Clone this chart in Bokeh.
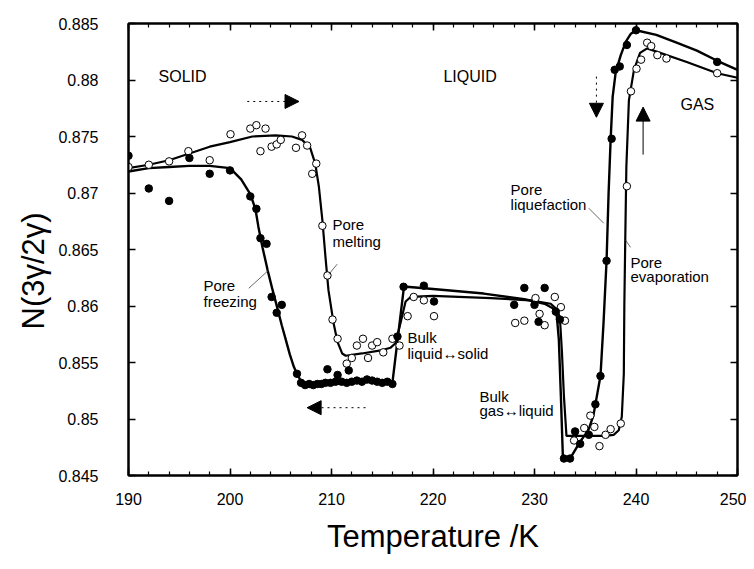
from bokeh.plotting import figure
from bokeh.models import (Range1d, LinearAxis, FixedTicker, CustomJSTickFormatter,
                          Arrow, NormalHead, Label, Title)
from bokeh.embed import file_html
from bokeh.resources import INLINE

# ---------------- data ----------------
# cooling run (filled circles): pore freezing, bulk transitions, pore liquefaction
cool_T = [190.0, 192.0, 194.0, 196.0, 198.0, 200.0, 202.0, 202.6, 203.0, 203.6,
          204.1, 204.6, 205.1, 206.6, 207.0, 207.4, 207.8, 208.2, 208.6, 209.0,
          209.4, 209.6, 209.9, 210.4, 210.6, 211.0, 211.5, 211.7, 212.0, 212.5,
          213.0, 213.5, 214.0, 214.5, 215.0, 215.5, 216.0, 216.5, 217.1, 219.1,
          220.1, 228.0, 229.0, 230.0, 230.4, 231.0, 232.1, 232.5, 232.9, 233.5,
          234.0, 234.5, 235.35, 236.0, 236.5, 237.1, 237.6, 237.9, 238.4, 239.1,
          240.0, 248.0]
cool_N = [0.8733, 0.8704, 0.8693, 0.8731, 0.8717, 0.8720, 0.8697, 0.8686, 0.8660, 0.8655,
          0.8608, 0.8594, 0.8601, 0.8540, 0.8532, 0.8530, 0.8531, 0.8530, 0.8531, 0.8531,
          0.8532, 0.8544, 0.8532, 0.8533, 0.8539, 0.8533, 0.8532, 0.8543, 0.8533, 0.8534,
          0.8533, 0.8535, 0.8534, 0.8533, 0.8532, 0.8533, 0.8531, 0.8573, 0.8617, 0.8618,
          0.8604, 0.8601, 0.8616, 0.8601, 0.8586, 0.8616, 0.8595, 0.8588, 0.8465, 0.8465,
          0.8489, 0.8478, 0.8486, 0.8513, 0.8538, 0.8640, 0.8748, 0.8809, 0.8812, 0.8831,
          0.8844, 0.8816]

# heating run (open circles): pore melting, bulk transitions, pore evaporation
heat_T = [190.0, 192.0, 194.0, 195.9, 198.0, 200.05, 202.0, 202.6, 203.0, 203.5,
          204.1, 204.6, 205.0, 206.5, 207.1, 207.6, 208.1, 208.5, 209.1, 209.6,
          210.1, 210.6, 211.5, 212.0, 212.5, 213.1, 213.6, 214.0, 214.5, 215.1,
          216.0, 216.7, 217.5, 218.1, 219.1, 220.1, 228.1, 229.0, 230.1, 230.5,
          231.0, 232.0, 232.6, 233.0, 233.9, 234.9, 235.5, 235.9, 236.4, 237.0,
          237.5, 238.5, 239.1, 239.5, 240.05, 240.5, 241.1, 241.5, 242.1, 243.0,
          248.0]
heat_N = [0.8723, 0.8725, 0.8728, 0.8737, 0.8729, 0.8752, 0.8757, 0.8760, 0.8737, 0.8757,
          0.8741, 0.8743, 0.8747, 0.8740, 0.8751, 0.8742, 0.8717, 0.8726, 0.8671, 0.8627,
          0.8588, 0.8571, 0.8549, 0.8554, 0.8565, 0.8571, 0.8554, 0.8565, 0.8568, 0.8559,
          0.8571, 0.8565, 0.8591, 0.8608, 0.8605, 0.8591, 0.8585, 0.8587, 0.8607, 0.8593,
          0.8583, 0.8608, 0.8599, 0.8587, 0.8481, 0.8492, 0.8503, 0.8493, 0.8476, 0.8486,
          0.8491, 0.8496, 0.8706, 0.8790, 0.8810, 0.8818, 0.8833, 0.8830, 0.8822, 0.8819,
          0.8806]

# fitted curve through the cooling run
cool_fit_T = [190.0, 192.0, 194.0, 196.0, 198.0, 200.0, 201.1, 202.0, 202.5, 202.8,
              203.2, 203.7, 204.2, 204.7, 205.1, 205.5, 205.9, 206.3, 206.6, 206.9,
              207.3, 207.8, 210.0, 212.0, 214.0, 216.0, 217.1, 217.4, 220.0, 225.0,
              229.0, 231.0, 231.8, 232.2, 232.4, 232.6, 232.8, 233.5, 234.5, 235.3,
              235.8, 236.1, 236.5, 236.8, 237.1, 237.3, 237.5, 237.7, 238.0, 238.5,
              239.0, 239.5, 240.0, 242.0, 244.0, 246.0, 248.0, 250.0]
cool_fit_N = [0.8719, 0.8722, 0.8723, 0.8724, 0.8724, 0.8722, 0.8712, 0.8699, 0.8686, 0.8670,
              0.8652, 0.8632, 0.8614, 0.8597, 0.8583, 0.8570, 0.8557, 0.8546, 0.8540, 0.8535,
              0.8532, 0.8531, 0.8531, 0.8532, 0.8533, 0.8532, 0.8614, 0.8617, 0.8615, 0.8611,
              0.8606, 0.8602, 0.8598, 0.8591, 0.8570, 0.8520, 0.8465, 0.8465, 0.8480, 0.8490,
              0.8503, 0.8518, 0.8538, 0.8585, 0.8640, 0.8700, 0.8747, 0.8785, 0.8807, 0.8822,
              0.8834, 0.8841, 0.8844, 0.8840, 0.8833, 0.8826, 0.8817, 0.8809]

# fitted curve through the heating run
heat_fit_T = [190.0, 192.0, 194.0, 196.0, 198.0, 200.0, 202.2, 204.5, 206.1, 207.1,
              207.9, 208.4, 208.75, 209.1, 209.4, 209.7, 210.2, 210.6, 211.05, 211.4,
              213.0, 215.0, 215.8, 216.3, 216.8, 217.3, 217.8, 220.0, 225.7, 229.6,
              231.6, 232.2, 232.5, 232.7, 232.9, 233.15, 235.0, 237.0, 237.8, 238.3,
              238.6, 238.8, 238.85, 238.95, 239.05, 239.3, 239.8, 240.4, 241.1, 245.0,
              248.0, 250.0]
heat_fit_N = [0.8722, 0.8725, 0.8729, 0.8735, 0.8741, 0.8745, 0.8750, 0.8751, 0.8750, 0.8747,
              0.8740, 0.8726, 0.8706, 0.8676, 0.8644, 0.8614, 0.8585, 0.8568, 0.8558, 0.8556,
              0.8558, 0.8561, 0.8563, 0.8567, 0.8585, 0.8604, 0.8608, 0.8609, 0.8607, 0.8605,
              0.8602, 0.8597, 0.8590, 0.8560, 0.8520, 0.8485, 0.8485, 0.8485, 0.8486, 0.8490,
              0.8502, 0.8540, 0.8600, 0.8664, 0.8723, 0.8782, 0.8809, 0.8824, 0.8828, 0.8816,
              0.8806, 0.8802]

x_ticks = [190, 200, 210, 220, 230, 240, 250]
x_minor_ticks = [190, 192, 194, 196, 198, 200, 202, 204, 206, 208, 210, 212, 214, 216, 218,
                 220, 222, 224, 226, 228, 230, 232, 234, 236, 238, 240, 242, 244, 246, 248, 250]
y_ticks = [0.845, 0.85, 0.855, 0.86, 0.865, 0.87, 0.875, 0.88, 0.885]
y_tick_labels = ["0.845", "0.85", "0.855", "0.86", "0.865", "0.87", "0.875", "0.88", "0.885"]
x_title = "Temperature /K"
y_title = "N(3γ/2γ)"

FONT = "Liberation Sans"

p = figure(width=746, height=561,
           x_range=Range1d(190, 250), y_range=Range1d(0.845, 0.885),
           output_backend="svg", toolbar_location=None,
           min_border_left=128, min_border_right=9, min_border_top=23, min_border_bottom=86,
           x_axis_label=x_title)
p.xgrid.visible = False
p.ygrid.visible = False
p.outline_line_color = "black"
p.outline_line_width = 2
p.background_fill_color = "white"
p.border_fill_color = "white"

xt = FixedTicker(ticks=x_ticks, minor_ticks=x_minor_ticks)
yt = FixedTicker(ticks=y_ticks, minor_ticks=[])


def style(ax):
    ax.axis_line_color = "black"
    ax.axis_line_width = 2
    ax.major_tick_in = 7
    ax.major_tick_out = 0
    ax.minor_tick_in = 4
    ax.minor_tick_out = 0
    ax.major_tick_line_width = 1.5
    ax.minor_tick_line_width = 1.2
    ax.major_tick_line_color = "black"
    ax.minor_tick_line_color = "black"
    ax.major_label_text_font = FONT
    ax.major_label_text_font_size = "16px"
    ax.major_label_text_color = "black"
    ax.axis_label_text_font = FONT
    ax.axis_label_text_font_size = "31px"
    ax.axis_label_text_font_style = "normal"
    ax.axis_label_text_color = "black"


xa = p.xaxis[0]
xa.ticker = xt
style(xa)
xa.major_label_standoff = 17
xa.axis_label_standoff = 11

ya = p.yaxis[0]
ya.ticker = yt
style(ya)
ya.major_label_overrides = {v: s for v, s in zip(y_ticks, y_tick_labels)}
ya.major_label_standoff = 30

blank = CustomJSTickFormatter(code="return ''")
top = LinearAxis(ticker=FixedTicker(ticks=x_ticks, minor_ticks=x_minor_ticks), formatter=blank)
style(top)
top.major_label_standoff = 0
p.add_layout(top, "above")
right = LinearAxis(ticker=FixedTicker(ticks=y_ticks, minor_ticks=[]), formatter=blank)
style(right)
right.major_label_standoff = 0
p.add_layout(right, "right")

# y title as a side title (sits a little below the frame centre, as in the original)
p.add_layout(Title(text=y_title, align="left", offset=146, standoff=10,
                   text_font=FONT, text_font_size="31px", text_font_style="normal",
                   text_color="black"), "left")

# fitted curves
p.line(cool_fit_T, cool_fit_N, line_width=2.4, color="black")
p.line(heat_fit_T, heat_fit_N, line_width=2.2, color="black")

# data points
p.scatter(heat_T, heat_N, marker="circle", size=7.5, fill_color="white",
          line_color="black", line_width=1)
p.scatter(cool_T, cool_N, marker="circle", size=7.5, fill_color="black",
          line_color="black")

# leader lines for annotations
p.segment(x0=[201.85, 210.56, 235.35, 239.46], y0=[0.86157, 0.8637, 0.86865, 0.86519],
          x1=[203.82, 209.73, 236.83, 238.97], y1=[0.86318, 0.8628, 0.86732, 0.86584],
          line_width=0.8, color="#444444")


def lab(x, y, t, size="15px"):
    p.add_layout(Label(x=x, y=y, text=t, text_font=FONT, text_font_size=size,
                       text_color="black", text_align="left", text_baseline="alphabetic"))


lab(192.96, 0.88027, "SOLID", "16px")
lab(221.03, 0.88027, "LIQUID", "16px")
lab(244.38, 0.87779, "GAS", "16px")
lab(210.10, 0.86717, "Pore")
lab(210.10, 0.86575, "melting")
lab(197.39, 0.86177, "Pore")
lab(197.39, 0.86044, "freezing")
lab(217.49, 0.85717, "Bulk")
lab(217.49, 0.85584, "liquid\u2194solid")
lab(224.58, 0.85203, "Bulk")
lab(224.58, 0.85071, "gas\u2194liquid")
lab(227.64, 0.87027, "Pore")
lab(227.64, 0.86894, "liquefaction")
lab(239.46, 0.86389, "Pore")
lab(239.46, 0.86257, "evaporation")


def arrow(x0, y0, x1, y1, dash):
    p.add_layout(Arrow(end=NormalHead(size=14, fill_color="black", line_color="black",
                                      line_width=1),
                       x_start=x0, y_start=y0, x_end=x1, y_end=y1,
                       line_color="black", line_width=1, line_dash=dash))


arrow(201.7, 0.8781, 206.8, 0.8781, "dotted")
arrow(213.35, 0.8510, 207.6, 0.8510, "dotted")
arrow(236.1, 0.8803, 236.1, 0.8767, "dotted")
arrow(240.7, 0.8734, 240.7, 0.8776, "solid")

open("out.html", "w").write(file_html(p, INLINE, "chart"))
